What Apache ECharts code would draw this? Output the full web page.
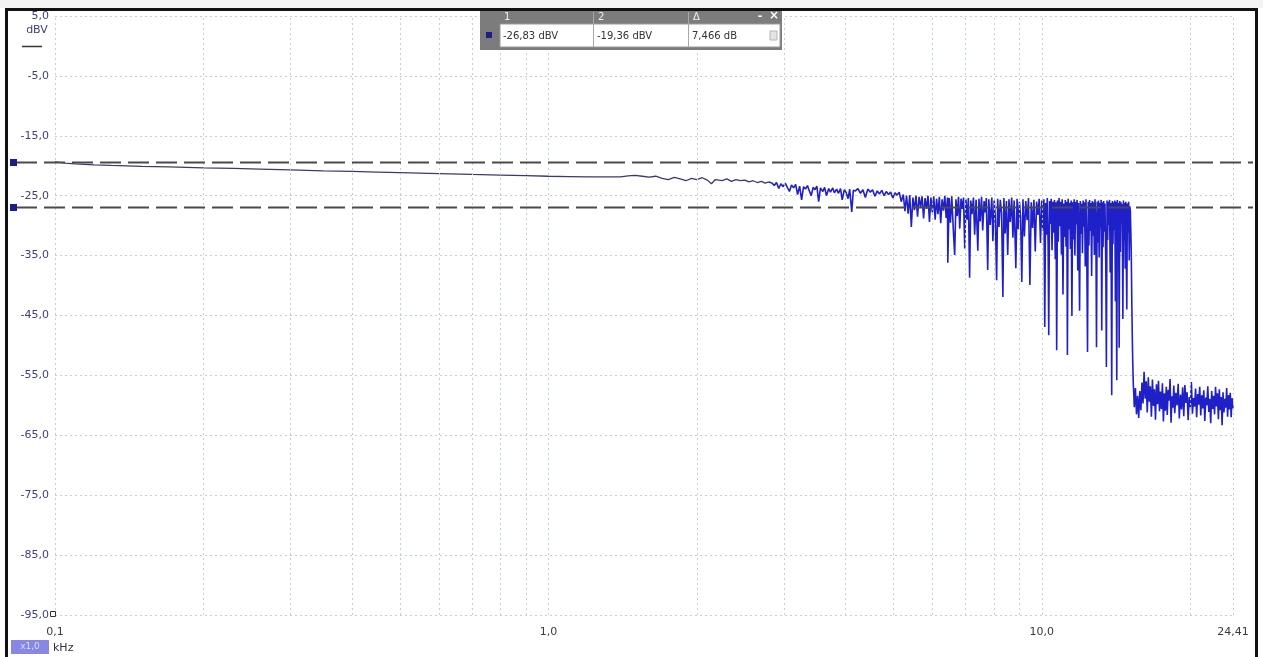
<!DOCTYPE html>
<html><head><meta charset="utf-8">
<script src="https://cdn.jsdelivr.net/npm/echarts@6/dist/echarts.min.js"></script>
<style>html,body{margin:0;padding:0;background:#fff;overflow:hidden}#c{width:1263px;height:657px}</style>
</head><body><div id="c"></div>
<script>
// ---- data (frequency in kHz, level in dBV) ----
const smoothTrace = [
 [0.100,-19.36],[0.105,-19.55],[0.110,-19.7],[0.120,-19.85],[0.130,-19.95],[0.150,-20.1],[0.170,-20.2],
 [0.200,-20.35],[0.230,-20.45],[0.260,-20.55],[0.300,-20.7],[0.350,-20.85],[0.400,-20.95],[0.450,-21.05],
 [0.500,-21.15],[0.600,-21.3],[0.700,-21.45],[0.800,-21.55],[0.900,-21.65],[1.000,-21.75],[1.100,-21.8],
 [1.200,-21.85],[1.300,-21.85],[1.400,-21.85],[1.450,-21.7],[1.500,-21.6],[1.550,-21.75],[1.600,-21.9],
 [1.650,-21.75],[1.700,-22.1],[1.750,-22.3],[1.800,-21.95],[1.850,-22.2],[1.900,-22.5],[1.950,-22.1],
 [2.000,-22.3],[2.050,-22.0],[2.100,-22.4],[2.140,-23.0],[2.180,-22.3],[2.250,-22.5],[2.300,-22.2],
 [2.350,-22.6],[2.400,-22.3],[2.450,-22.5],[2.500,-22.4],[2.550,-22.7],[2.600,-22.5],[2.650,-22.8],
 [2.700,-22.6],[2.750,-22.9],[2.800,-22.7]
];
const trace3to4k = [
 [2.80,-22.7],[2.84,-22.9],[2.87,-23.3],[2.90,-22.8],[2.93,-23.8],[2.96,-23.0],[2.99,-23.5],[3.02,-22.9],
 [3.05,-23.6],[3.08,-24.3],[3.11,-23.2],[3.14,-23.7],[3.17,-23.1],[3.20,-24.8],[3.23,-23.4],[3.26,-25.7],
 [3.29,-23.5],[3.32,-23.9],[3.35,-23.3],[3.38,-24.2],[3.41,-25.0],[3.44,-23.6],[3.47,-24.0],[3.50,-23.4],
 [3.53,-26.0],[3.56,-23.7],[3.60,-24.3],[3.63,-23.6],[3.66,-25.0],[3.70,-23.8],[3.73,-24.4],[3.77,-23.7],
 [3.80,-24.5],[3.84,-23.9],[3.87,-24.6],[3.91,-23.8],[3.94,-25.7],[3.98,-24.0],[4.01,-24.4],[4.05,-25.5],
 [4.08,-23.9],[4.12,-27.7],[4.15,-24.1]
];
const trace4to6k = [
 [4.19,-24.2],[4.24,-23.8],[4.29,-24.6],[4.34,-24.0],[4.39,-25.3],[4.44,-23.9],[4.49,-24.4],[4.54,-24.0],
 [4.59,-25.1],[4.64,-24.2],[4.69,-24.7],[4.74,-24.1],[4.79,-25.0],[4.84,-24.3],[4.89,-24.8],[4.94,-24.4],
 [4.99,-25.4],[5.04,-24.5],[5.09,-24.9],[5.14,-24.4],[5.19,-26.0],[5.24,-24.8],[5.28,-27.6],[5.32,-25.0],
 [5.36,-28.0],[5.40,-24.9],[5.44,-30.2],[5.48,-25.3],[5.52,-27.4],[5.56,-25.0],[5.60,-28.5],[5.64,-25.2],
 [5.68,-26.9],[5.72,-25.1],[5.76,-28.8],[5.80,-25.4],[5.84,-27.2],[5.88,-25.0],[5.92,-29.4],[5.96,-25.3],
 [6.00,-27.8],[6.04,-25.1],[6.08,-29.0],[6.12,-25.5],[6.16,-28.1],[6.20,-25.2],[6.24,-29.6],[6.28,-25.6],
 [6.32,-27.5],[6.36,-25.0],[6.40,-28.7],[6.44,-25.3]
];
const trace6to10k = [
 [6.45,-36.2],[6.49,-25.4],[6.53,-29.5],[6.57,-25.1],[6.62,-31.0],[6.66,-34.9],[6.70,-25.6],[6.74,-28.4],
 [6.78,-25.2],[6.82,-30.5],[6.86,-25.5],[6.90,-27.2],[6.94,-25.3],[6.98,-33.8],[7.02,-25.6],[7.06,-29.0],
 [7.10,-25.4],[7.14,-38.7],[7.18,-25.8],[7.22,-28.1],[7.27,-25.3],[7.31,-31.5],[7.36,-25.7],[7.42,-34.2],
 [7.46,-25.5],[7.50,-29.3],[7.55,-25.2],[7.59,-30.8],[7.64,-25.9],[7.68,-27.8],[7.72,-25.4],[7.77,-37.4],
 [7.81,-25.6],[7.86,-29.9],[7.92,-25.3],[7.96,-32.6],[8.01,-25.8],[8.05,-28.6],[8.10,-39.1],[8.14,-25.5],
 [8.19,-30.2],[8.24,-25.7],[8.29,-27.9],[8.34,-41.9],[8.38,-25.4],[8.43,-31.3],[8.48,-25.9],[8.53,-34.9],
 [8.58,-25.6],[8.63,-29.4],[8.69,-25.3],[8.74,-32.0],[8.79,-25.8],[8.86,-37.1],[8.91,-25.5],[8.96,-30.6],
 [9.01,-26.0],[9.06,-28.7],[9.11,-39.4],[9.16,-25.6],[9.22,-31.8],[9.28,-25.9],[9.34,-29.1],[9.40,-25.4],
 [9.46,-39.9],[9.52,-26.1],[9.58,-30.4],[9.64,-25.7],[9.70,-34.3],[9.76,-26.0],[9.82,-28.2],[9.88,-25.5],
 [9.94,-32.9],[10.00,-25.8]
];
const trace10to15k = [
 [10.05,-30.8],[10.10,-25.6],[10.14,-46.9],[10.18,-26.2],[10.22,-31.5],[10.26,-25.4],[10.30,-33.0],[10.33,-48.3],
 [10.37,-25.9],[10.41,-29.7],[10.45,-25.5],[10.49,-34.1],[10.53,-26.0],[10.57,-31.2],[10.61,-25.7],[10.65,-35.6],
 [10.69,-26.1],[10.72,-50.8],[10.76,-25.8],[10.80,-32.7],[10.84,-25.4],[10.88,-30.1],[10.92,-26.0],[10.96,-34.8],
 [11.00,-25.6],[11.04,-41.5],[11.08,-26.3],[11.12,-31.9],[11.16,-25.7],[11.20,-33.5],[11.24,-26.0],[11.27,-51.6],
 [11.31,-25.5],[11.35,-30.6],[11.39,-26.2],[11.43,-33.9],[11.47,-25.8],[11.51,-45.1],[11.55,-26.1],[11.59,-32.3],
 [11.63,-25.6],[11.67,-35.0],[11.71,-26.0],[11.75,-29.8],[11.79,-25.7],[11.83,-37.5],[11.87,-26.2],[11.93,-44.2],
 [11.97,-25.9],[12.01,-31.4],[12.05,-26.3],[12.09,-34.6],[12.13,-25.8],[12.17,-30.2],[12.21,-26.1],[12.25,-36.8],
 [12.29,-25.6],[12.33,-32.0],[12.38,-51.1],[12.42,-26.0],[12.46,-33.3],[12.50,-25.7],[12.54,-30.9],[12.58,-26.2],
 [12.62,-38.4],[12.66,-25.9],[12.70,-31.7],[12.74,-26.1],[12.78,-34.9],[12.82,-25.6],[12.87,-29.4],[12.91,-50.3],
 [12.95,-26.0],[12.99,-32.8],[13.03,-25.8],[13.07,-35.3],[13.11,-26.2],[13.15,-30.3],[13.19,-25.7],[13.23,-47.5],
 [13.27,-26.1],[13.31,-33.6],[13.35,-25.9],[13.39,-31.0],[13.43,-26.3],[13.48,-36.2],[13.52,-53.6],[13.56,-25.8],
 [13.60,-32.4],[13.64,-26.0],[13.68,-29.9],[13.72,-25.7],[13.76,-37.8],[13.81,-26.2],[13.86,-58.3],[13.90,-25.9],
 [13.94,-33.1],[13.98,-26.1],[14.02,-30.7],[14.06,-25.8],[14.10,-42.6],[14.14,-26.0],[14.19,-55.8],[14.23,-25.7],
 [14.27,-31.6],[14.31,-26.2],[14.35,-50.4],[14.39,-25.9],[14.43,-34.4],[14.47,-26.1],[14.51,-29.6],[14.56,-26.4],
 [14.60,-45.6],[14.64,-25.8],[14.68,-32.5],[14.72,-26.2],[14.76,-37.2],[14.80,-26.0],[14.87,-44.0],[14.91,-26.3],
 [14.95,-31.2],[15.00,-26.0],[15.04,-35.8],[15.08,-26.8],[15.12,-27.5],[15.18,-34.0],[15.22,-42.5],[15.26,-49.0],
 [15.29,-53.0],[15.33,-56.5],[15.36,-57.9]
];
const noiseFloor = [
 [15.40,-60.3],[15.48,-57.1],[15.56,-61.5],[15.64,-58.4],[15.72,-62.1],[15.80,-57.6],[15.88,-60.8],[15.96,-56.2],
 [16.04,-59.7],[16.12,-54.4],[16.20,-58.9],[16.28,-56.0],[16.36,-61.2],[16.44,-55.3],[16.52,-59.4],[16.60,-56.8],
 [16.68,-61.9],[16.76,-55.7],[16.84,-60.1],[16.92,-57.3],[17.00,-62.4],[17.08,-56.5],[17.16,-59.8],[17.24,-55.9],
 [17.32,-61.0],[17.40,-57.7],[17.48,-60.6],[17.56,-56.3],[17.64,-62.7],[17.72,-58.0],[17.80,-60.9],[17.88,-56.9],
 [17.96,-61.6],[18.04,-57.4],[18.12,-59.2],[18.20,-55.6],[18.28,-62.9],[18.36,-58.5],[18.44,-60.4],[18.52,-56.7],
 [18.60,-61.3],[18.70,-57.9],[18.80,-60.0],[18.90,-56.4],[19.00,-62.2],[19.10,-58.2],[19.20,-60.7],[19.30,-57.0],
 [19.40,-61.8],[19.50,-56.6],[19.60,-59.6],[19.70,-57.8],[19.80,-62.5],[19.90,-58.6],[20.00,-60.3],[20.10,-56.1],
 [20.20,-61.4],[20.30,-58.8],[20.40,-60.2],[20.50,-57.2],[20.60,-62.0],[20.70,-58.1],[20.80,-59.9],[20.90,-56.9],
 [21.00,-61.7],[21.10,-58.3],[21.20,-60.5],[21.30,-57.5],[21.40,-62.6],[21.50,-58.7],[21.60,-60.0],[21.70,-56.8],
 [21.80,-61.1],[21.90,-58.9],[22.00,-63.0],[22.10,-57.6],[22.20,-60.6],[22.30,-58.4],[22.40,-61.5],[22.50,-56.9],
 [22.60,-60.2],[22.70,-58.0],[22.80,-62.3],[22.90,-57.3],[23.00,-60.8],[23.10,-58.6],[23.20,-63.3],[23.30,-57.8],
 [23.40,-61.2],[23.50,-58.9],[23.60,-60.4],[23.70,-57.1],[23.80,-61.9],[23.90,-58.3],[24.00,-60.7],[24.10,-57.9],
 [24.20,-62.0],[24.30,-58.8],[24.41,-60.5]
];
const gridFreqs = [0.1,0.2,0.3,0.4,0.5,0.6,0.7,0.8,0.9,1,2,3,4,5,6,7,8,9,10,20,24.41];
const cursorLevels = [-26.83, -19.36];
const readoutHeaders = ['1', '2', 'Δ'];
const readoutValues = ['-26,83 dBV', '-19,36 dBV', '7,466 dB'];
const yUnit = 'dBV';
const xUnit = 'kHz';
const zoomBadge = 'x1,0';

// ---- chart ----
const FONT = 'DejaVu Sans';
const GRID_COLOR = '#c5cfd9';
const chart = echarts.init(document.getElementById('c'), null, {renderer: 'canvas'});
const noiseTrace = [].concat(trace3to4k, trace4to6k, trace6to10k, trace10to15k, noiseFloor);

function fmtX(v) {
  const r1 = Math.round(v * 10) / 10;
  if (Math.abs(r1 - v) < 1e-6) return r1.toFixed(1).replace('.', ',');
  return (Math.round(v * 100) / 100).toFixed(2).replace('.', ',');
}

chart.setOption({
  animation: false,
  backgroundColor: '#ffffff',
  grid: {left: 55, right: 30, top: 16, bottom: 42},
  xAxis: {
    type: 'log', logBase: 10, min: 0.1, max: 24.41,
    axisLine: {show: false}, axisTick: {show: false}, splitLine: {show: false},
    axisLabel: {color: '#3a3a3a', fontFamily: FONT, fontSize: 11, margin: 12,
      showMinLabel: true, showMaxLabel: true, formatter: fmtX}
  },
  yAxis: {
    type: 'value', min: -95, max: 5, interval: 10,
    axisLine: {show: false}, axisTick: {show: false},
    splitLine: {show: true, lineStyle: {color: GRID_COLOR, type: [2, 3], width: 1}},
    axisLabel: {color: '#3e3e84', fontFamily: FONT, fontSize: 11, margin: 6,
      formatter: v => v.toFixed(1).replace('.', ',')}
  },
  series: [
    {type: 'line', data: [[0.1, -95]], symbol: 'none', silent: true, z: 1,
      lineStyle: {opacity: 0},
      markLine: {silent: true, symbol: ['none', 'none'], label: {show: false}, animation: false,
        lineStyle: {color: GRID_COLOR, type: [2, 3], width: 1},
        emphasis: {disabled: true},
        data: gridFreqs.map(f => ({xAxis: f}))}},
    {type: 'line', data: smoothTrace, symbol: 'none', silent: true, z: 3,
      lineStyle: {color: '#3a3a72', width: 1.3}},
    {type: 'line', data: noiseTrace, symbol: 'none', silent: true, z: 3,
      lineStyle: {color: '#2020c8', width: 1.6}}
  ]
});

const yPx = v => chart.convertToPixel({yAxisIndex: 0}, v);
const gfx = [];
// outer frame
gfx.push({type: 'rect', z: 200, shape: {x: 0, y: 0, width: 1263, height: 8}, style: {fill: '#f3f3f3'}});
gfx.push({type: 'rect', z: 201, shape: {x: 5, y: 8, width: 1253, height: 3}, style: {fill: '#111'}});
gfx.push({type: 'rect', z: 201, shape: {x: 5, y: 8, width: 3, height: 649}, style: {fill: '#111'}});
gfx.push({type: 'rect', z: 201, shape: {x: 1255, y: 8, width: 3, height: 649}, style: {fill: '#111'}});
// cursor lines
cursorLevels.forEach(v => {
  const y = Math.round(yPx(v)) + 0.5;
  gfx.push({type: 'line', z: 150, shape: {x1: 16, y1: y, x2: 1253, y2: y},
    style: {stroke: '#4a4a4a', lineWidth: 2, lineDash: [21, 7]}});
  gfx.push({type: 'rect', z: 151, shape: {x: 10, y: y - 3.5, width: 7, height: 7},
    style: {fill: '#1d1d8a'}});
});
// y unit
gfx.push({type: 'text', z: 150, style: {text: yUnit, x: 37, y: 30, align: 'center', verticalAlign: 'middle',
  fill: '#3e3e84', font: '11px "DejaVu Sans"'}});
gfx.push({type: 'line', z: 150, shape: {x1: 22, y1: 46.5, x2: 42, y2: 46.5}, style: {stroke: '#333', lineWidth: 1.5}});
// origin square
gfx.push({type: 'rect', z: 150, shape: {x: 50.5, y: 611.5, width: 5, height: 5}, style: {fill: '#fff', stroke: '#333', lineWidth: 1}});
// x unit + zoom badge
gfx.push({type: 'rect', z: 150, shape: {x: 11, y: 640, width: 38, height: 14}, style: {fill: '#8787e6'}});
gfx.push({type: 'text', z: 151, style: {text: zoomBadge, x: 30, y: 647, align: 'center', verticalAlign: 'middle',
  fill: '#dcdcff', font: '9px "DejaVu Sans"'}});
gfx.push({type: 'text', z: 150, style: {text: xUnit, x: 53, y: 648, align: 'left', verticalAlign: 'middle',
  fill: '#333', font: '11px "DejaVu Sans"'}});
// readout box
const bx = 480, bw = 302;
gfx.push({type: 'rect', z: 160, shape: {x: bx, y: 10, width: bw, height: 40}, style: {fill: '#7c7c7c'}});
gfx.push({type: 'rect', z: 161, shape: {x: 500, y: 24, width: 280, height: 23}, style: {fill: '#ffffff', stroke: '#9a9a9a', lineWidth: 1}});
gfx.push({type: 'rect', z: 162, shape: {x: 486, y: 32, width: 6, height: 6}, style: {fill: '#1d1d8a'}});
const colX = [500, 594, 689];
colX.forEach((cx, i) => {
  if (i > 0) {
    gfx.push({type: 'line', z: 162, shape: {x1: cx - 0.5, y1: 12, x2: cx - 0.5, y2: 47}, style: {stroke: '#a8a8a8', lineWidth: 1}});
  }
  gfx.push({type: 'text', z: 162, style: {text: readoutHeaders[i], x: cx + 4, y: 17.5, align: 'left', verticalAlign: 'middle',
    fill: '#eeeeee', font: '10px "DejaVu Sans"'}});
  gfx.push({type: 'text', z: 162, style: {text: readoutValues[i], x: cx + 3, y: 36, align: 'left', verticalAlign: 'middle',
    fill: '#333', font: '10px "DejaVu Sans"'}});
});
gfx.push({type: 'text', z: 162, style: {text: '-', x: 760, y: 16, align: 'center', verticalAlign: 'middle', fill: '#fff', font: 'bold 11px "DejaVu Sans"'}});
gfx.push({type: 'text', z: 162, style: {text: '×', x: 774, y: 16, align: 'center', verticalAlign: 'middle', fill: '#fff', font: 'bold 12px "DejaVu Sans"'}});
gfx.push({type: 'rect', z: 162, shape: {x: 770, y: 31, width: 7, height: 9}, style: {fill: '#e4e4e4', stroke: '#b5b5b5', lineWidth: 1}});
chart.setOption({graphic: gfx});
</script></body></html>
